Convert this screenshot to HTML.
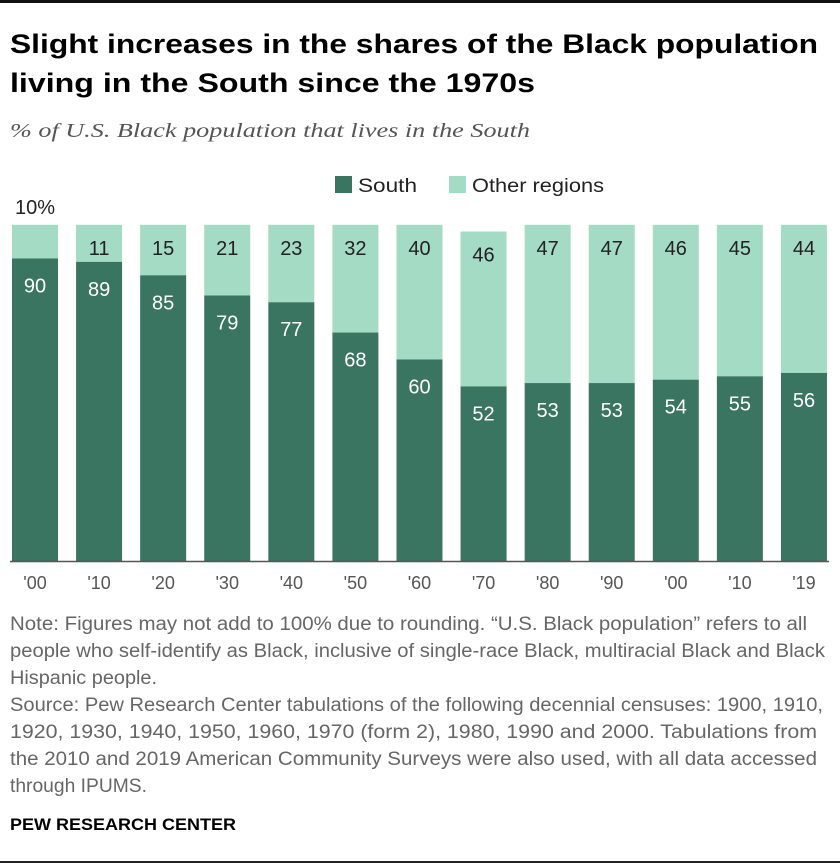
<!DOCTYPE html>
<html><head><meta charset="utf-8"><style>
body{margin:0;width:840px;height:868px;background:#fff;font-family:"Liberation Sans",sans-serif;overflow:hidden}
svg text{font-family:"Liberation Sans",sans-serif}
</style></head><body>
<svg id="c" width="840" height="868" style="position:absolute;left:0;top:0">
<rect x="0" y="0" width="840" height="3" fill="#111"/>
<g font-weight="bold" font-size="27" fill="#000">
<text x="10" y="53" textLength="808" lengthAdjust="spacingAndGlyphs">Slight increases in the shares of the Black population</text>
<text x="10" y="92" textLength="525" lengthAdjust="spacingAndGlyphs">living in the South since the 1970s</text>
</g>
<text x="10" y="137" font-size="20" fill="#555" style="font-family:'Liberation Serif',serif;font-style:italic" textLength="520" lengthAdjust="spacingAndGlyphs">% of U.S. Black population that lives in the South</text>
<g font-size="19" fill="#666">
<text x="10" y="630" textLength="797" lengthAdjust="spacingAndGlyphs">Note: Figures may not add to 100% due to rounding. “U.S. Black population” refers to all</text>
<text x="10" y="657" textLength="815" lengthAdjust="spacingAndGlyphs">people who self-identify as Black, inclusive of single-race Black, multiracial Black and Black</text>
<text x="10" y="684" textLength="147" lengthAdjust="spacingAndGlyphs">Hispanic people.</text>
<text x="10" y="711" textLength="813" lengthAdjust="spacingAndGlyphs">Source: Pew Research Center tabulations of the following decennial censuses: 1900, 1910,</text>
<text x="10" y="738" textLength="807" lengthAdjust="spacingAndGlyphs">1920, 1930, 1940, 1950, 1960, 1970 (form 2), 1980, 1990 and 2000. Tabulations from</text>
<text x="10" y="765" textLength="807" lengthAdjust="spacingAndGlyphs">the 2010 and 2019 American Community Surveys were also used, with all data accessed</text>
<text x="10" y="792" textLength="137" lengthAdjust="spacingAndGlyphs">through IPUMS.</text>
</g>
<text x="10" y="830" font-size="17" font-weight="bold" fill="#000" textLength="226" lengthAdjust="spacingAndGlyphs">PEW RESEARCH CENTER</text>
<rect x="0" y="861" width="840" height="2" fill="#222"/>
</svg>
<script>
const categories=["'00","'10","'20","'30","'40","'50","'60","'70","'80","'90","'00","'10","'19"];
const south=[90,89,85,79,77,68,60,52,53,53,54,55,56];
const other=[10,11,15,21,23,32,40,46,47,47,46,45,44];
const NS="http://www.w3.org/2000/svg",svg=document.getElementById('c');
const base=561.5,sc=3.367,x0=12,pitch=64.08,bw=46;
const y=v=>base-v*sc, x=i=>x0+i*pitch;
function mk(t,a,txt){const e=document.createElementNS(NS,t);for(const k in a)e.setAttribute(k,a[k]);if(txt!=null)e.textContent=txt;svg.appendChild(e);return e;}
let e=mk('rect',{x:335,y:176,width:17,height:17,fill:'#3a7562'});


e=mk('text',{x:358,y:192,'font-size':19,fill:'#222',textLength:59,lengthAdjust:'spacingAndGlyphs'},'South');


e=mk('rect',{x:449,y:176,width:17,height:17,fill:'#a3dbc4'});


e=mk('text',{x:472,y:192,'font-size':19,fill:'#222',textLength:132,lengthAdjust:'spacingAndGlyphs'},'Other regions');


categories.forEach((c,i)=>{
  const cx=x(i)+bw/2;
  const st=y(south[i]), ot=y(south[i]+other[i]);
  let r=mk('rect',{x:x(i),y:ot,width:bw,height:st-ot,fill:'#a3dbc4'});
  
  
  r=mk('rect',{x:x(i),y:st,width:bw,height:base-st,fill:'#3a7562'});
  
  
  let t=mk('text',{x:cx,y:st+34,'font-size':20,fill:'#fff','text-anchor':'middle'},south[i]);
  
  
  if(i===0){t=mk('text',{x:cx,y:ot-11,'font-size':20,fill:'#222','text-anchor':'middle'},other[i]+'%');}
  else{t=mk('text',{x:cx,y:ot+30,'font-size':20,fill:'#222','text-anchor':'middle'},other[i]);}
  
  
  t=mk('text',{x:cx,y:589,'font-size':18,fill:'#555','text-anchor':'middle'},c);
  
  
});
e=mk('line',{x1:10,x2:829,y1:base,y2:base,stroke:'#555','stroke-width':1.5});


</script>
</body></html>
